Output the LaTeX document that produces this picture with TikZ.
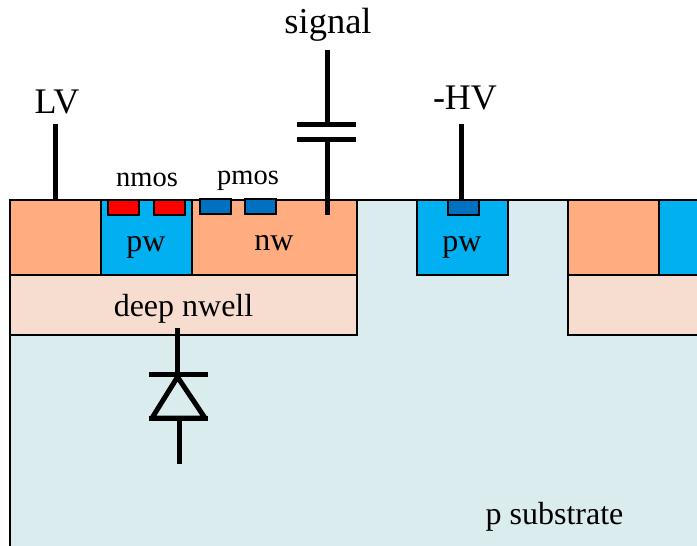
\documentclass[tikz,border=0pt]{standalone}
\usepackage{fontspec}
\setmainfont{Liberation Serif}
\usetikzlibrary{positioning}
\definecolor{nwcol}{HTML}{FFAD80}
\definecolor{pwcol}{HTML}{00B0F0}
\definecolor{dncol}{HTML}{F7DDD0}
\definecolor{subcol}{HTML}{DAECEE}
\definecolor{pdiff}{HTML}{0070C0}
\tikzset{well/.style={rectangle,draw,line width=2pt,anchor=north west,outer sep=0pt,inner sep=0pt,minimum height=75pt},
         nw node/.style={well,fill=nwcol},
         pw node/.style={well,fill=pwcol,minimum width=91pt},
         deep node/.style={well,fill=dncol,minimum height=60pt},
         diff/.style={rectangle,draw,line width=2pt,anchor=north west,outer sep=0pt,inner sep=0pt,minimum width=31pt,minimum height=15pt},
         word/.style={rectangle,draw=none,fill=none,anchor=base,inner sep=0pt,font=\fontsize{#1}{#1}\selectfont},
         wire/.style={line width=5pt}
}

\begin{document}
\begin{tikzpicture}[x=1pt,y=-1pt]
\useasboundingbox (0,0) rectangle (697,546);
\clip (0,0) rectangle (697,546);
\node [well,fill=subcol,minimum width=720pt,minimum height=380pt] (sub) at (10,200) {};

% left deep nwell
\node [deep node,minimum width=347pt] (deep1) at (10,275) {};
\node [nw node,minimum width=91pt] (nw1) at (10,200) {};
\node [pw node] (pw1) at (101,200) {};
\node [nw node,minimum width=165pt] (nw2) at (192,200) {};
\node [diff,fill=red] (n1) at (108,200) {};
\node [diff,fill=red] (n2) at (154,200) {};
\node [diff,fill=pdiff] (p1) at (200,199) {};
\node [diff,fill=pdiff] (p2) at (245,199) {};

% isolated pw
\node [pw node] (pw2) at (417,200) {};
\node [diff,fill=pdiff] (p3) at (448,200) {};

% right deep nwell
\node [deep node,minimum width=150pt] (deep2) at (568,275) {};
\node [nw node,minimum width=91pt] (nw3) at (568,200) {};
\node [pw node] (pw3) at (659,200) {};

\node [word=32] (pw1 text) at (146,251) {pw};
\node [word=32] (nw2 text) at (274,250) {nw};
\node [word=32] (pw2 text) at (462,251) {pw};
\node [word=32] (deep text) at (183.5,316) {deep nwell};
\node [word=32] (sub text) at (554.5,524) {p substrate};
\node [word=28.5] (nmos text) at (147,186) {nmos};
\node [word=28.5] (pmos text) at (248,184) {pmos};
\node [word=36.5] (signal text) at (328,33) {signal};
\node [word=36] (lv text) at (57,113) {LV};
\node [word=36] (hv text) at (465,109) {-HV};

% LV and -HV
\coordinate (lv top) at (55,124);
\coordinate (lv tap) at (55,200);
\coordinate (hv top) at (461,124);
\coordinate (hv tap) at (461,200);
\draw [wire] (lv top) -- (lv tap);
\draw [wire] (hv top) -- (hv tap);

% signal capacitor
\coordinate (sig top) at (327,50);
\coordinate (cap a) at (327,124);
\coordinate (cap b) at (327,139);
\coordinate (sig tap) at (327,215);
\draw [wire] (sig top) -- (cap a);
\draw [wire] (cap b) -- (sig tap);
\draw [wire] (297,124) -- (356,124);
\draw [wire] (297,139) -- (356,139);

% diode
\coordinate (d top) at (177,328);
\coordinate (d bar) at (177,374);
\coordinate (d tip) at (177.5,377);
\coordinate (d left) at (152,418);
\coordinate (d right) at (205,418);
\coordinate (d base) at (179,418);
\coordinate (d end) at (179,464);
\draw [wire] (d top) -- (d bar);
\draw [wire] (149,374) -- (208,374);
\draw [wire,line join=round] (d tip) -- (d right) -- (d left) -- cycle;
\draw [wire] (149,418) -- (208,418);
\draw [wire] (d base) -- (d end);
\end{tikzpicture}
\end{document}
